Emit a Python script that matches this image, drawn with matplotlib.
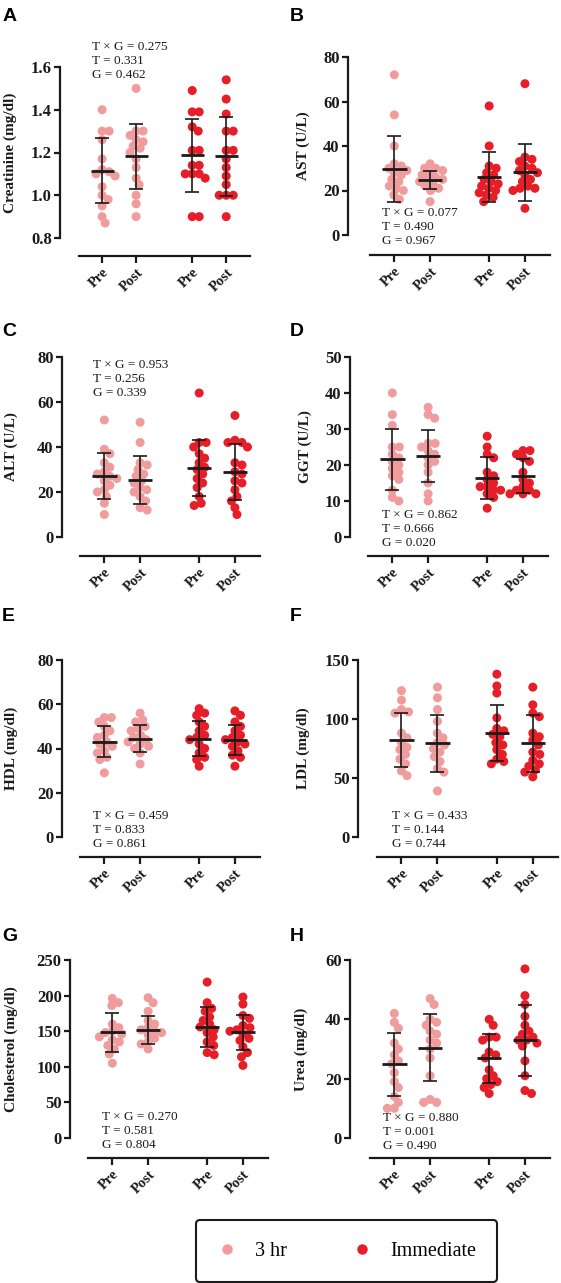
import numpy as np
import matplotlib
matplotlib.use("Agg")
import matplotlib.pyplot as plt
from matplotlib.lines import Line2D

# ── DATA ─────────────────────────────────────────────────────────────────────
# order in every panel: 3 hr Pre, 3 hr Post, Immediate Pre, Immediate Post
xcats = ['Pre', 'Post', 'Pre', 'Post']
groups = ['3 hr', 'Immediate']

creatinine = [
    [1.40, 1.30, 1.30, 1.26, 1.17, 1.12, 1.11, 1.10, 1.09, 1.04, 1.00, 0.98, 0.95, 0.90, 0.87],
    [1.50, 1.30, 1.30, 1.28, 1.26, 1.25, 1.23, 1.22, 1.20, 1.17, 1.13, 1.08, 1.05, 1.00, 0.96, 0.90],
    [1.49, 1.39, 1.39, 1.32, 1.30, 1.21, 1.21, 1.14, 1.14, 1.10, 1.10, 1.10, 1.08, 0.90, 0.90],
    [1.54, 1.45, 1.38, 1.30, 1.30, 1.21, 1.21, 1.17, 1.13, 1.09, 1.05, 1.00, 1.00, 1.00, 0.90],
]
creatinine_mean = [1.114, 1.182, 1.187, 1.182]
creatinine_sd = [0.152, 0.151, 0.171, 0.184]

ast = [
    [72, 54, 40, 32, 31, 30, 29, 28, 27, 25, 24, 22, 21, 20, 18, 16],
    [32, 30, 30, 29, 28, 27, 26, 25, 25, 24, 23, 22, 21, 20, 15],
    [58, 40, 31, 30, 28, 27, 25, 24, 23, 22, 21, 20, 19, 18, 17, 15],
    [68, 35, 34, 33, 31, 30, 29, 28, 27, 25, 24, 22, 21, 21, 20, 12],
]
ast_mean = [29.7, 24.8, 26.0, 28.2]
ast_sd = [14.8, 4.0, 11.2, 12.9]

alt = [
    [52, 39, 37, 33, 31, 29, 28, 27, 26, 25, 23, 21, 20, 18, 15, 10],
    [51, 42, 33, 32, 30, 28, 27, 25, 24, 22, 21, 20, 18, 16, 13, 12],
    [64, 42, 42, 40, 37, 35, 33, 31, 30, 28, 26, 24, 22, 18, 15, 14],
    [54, 43, 42, 42, 40, 33, 32, 29, 28, 25, 24, 21, 18, 16, 13, 10],
]
alt_mean = [27.1, 25.2, 30.7, 28.9]
alt_sd = [10.2, 10.6, 12.3, 12.3]

ggt = [
    [40, 34, 31, 25, 25, 23, 22, 21, 20, 19, 18, 17, 16, 13, 11, 10],
    [36, 34, 33, 26, 26, 25, 24, 23, 22, 21, 20, 18, 15, 12, 10],
    [28, 25, 23, 22, 18, 17, 16, 15, 14, 14, 13, 13, 12, 11, 8],
    [24, 24, 23, 22, 21, 18, 16, 15, 14, 13, 13, 12, 12, 12],
]
ggt_mean = [21.6, 22.5, 16.4, 16.9]
ggt_sd = [8.5, 7.3, 5.8, 4.8]

hdl = [
    [54, 54, 52, 50, 48, 46, 45, 43, 42, 41, 39, 38, 36, 35, 29],
    [56, 53, 52, 50, 49, 48, 46, 45, 44, 43, 42, 41, 40, 38, 33],
    [58, 56, 55, 52, 50, 48, 46, 45, 44, 42, 40, 38, 36, 35, 32],
    [57, 55, 52, 50, 48, 46, 45, 44, 43, 42, 41, 39, 37, 36, 32],
]
hdl_mean = [43.0, 44.5, 44.5, 43.7]
hdl_sd = [7.0, 6.2, 8.0, 6.8]

ldl = [
    [124, 116, 108, 106, 105, 88, 84, 80, 76, 74, 70, 66, 62, 56, 52],
    [127, 118, 108, 98, 88, 84, 80, 78, 75, 72, 68, 64, 58, 55, 39],
    [138, 128, 122, 101, 92, 90, 87, 85, 80, 78, 74, 70, 66, 64, 62],
    [127, 112, 105, 102, 88, 85, 82, 78, 72, 70, 65, 62, 60, 57, 55, 51],
]
ldl_mean = [82.3, 79.5, 88.0, 79.5]
ldl_sd = [23.1, 24.0, 24.0, 24.0]

cholesterol = [
    [196, 190, 186, 160, 155, 150, 148, 146, 142, 138, 135, 130, 125, 118, 105],
    [197, 190, 178, 165, 160, 155, 152, 150, 148, 145, 140, 135, 132, 125],
    [219, 190, 182, 178, 170, 165, 160, 156, 152, 148, 142, 135, 130, 120, 117],
    [198, 188, 172, 168, 158, 155, 152, 150, 146, 140, 137, 128, 120, 114, 102],
]
cholesterol_mean = [148.7, 152.0, 156.0, 148.4]
cholesterol_sd = [27.3, 19.8, 27.5, 24.5]

urea = [
    [42, 39, 37, 32, 30, 28, 26, 25, 22, 19, 17, 14, 12, 10, 10],
    [47, 45, 40, 39, 38, 36, 35, 33, 32, 30, 27, 21, 13, 12, 12],
    [40, 38, 34, 34, 33, 29, 28, 27, 23, 21, 20, 19, 18, 17, 15],
    [57, 48, 45, 41, 38, 36, 35, 34, 33, 33, 32, 31, 26, 21, 16, 15],
]
urea_mean = [24.8, 30.4, 26.8, 33.0]
urea_sd = [10.5, 11.3, 8.3, 12.0]

letters = ['A', 'B', 'C', 'D', 'E', 'F', 'G', 'H']
ylabels = ['Creatinine (mg/dl)', 'AST (U/L)', 'ALT (U/L)', 'GGT (U/L)',
           'HDL (mg/dl)', 'LDL (mg/dl)', 'Cholesterol (mg/dl)', 'Urea (mg/dl)']
pvals = [('0.275', '0.331', '0.462'), ('0.077', '0.490', '0.967'),
         ('0.953', '0.256', '0.339'), ('0.862', '0.666', '0.020'),
         ('0.459', '0.833', '0.861'), ('0.433', '0.144', '0.744'),
         ('0.270', '0.581', '0.804'), ('0.880', '0.001', '0.490')]
yticks = [[0.8, 1.0, 1.2, 1.4, 1.6], [0, 20, 40, 60, 80], [0, 20, 40, 60, 80],
          [0, 10, 20, 30, 40, 50], [0, 20, 40, 60, 80], [0, 50, 100, 150],
          [0, 50, 100, 150, 200, 250], [0, 20, 40, 60]]

points = [creatinine, ast, alt, ggt, hdl, ldl, cholesterol, urea]
means = [creatinine_mean, ast_mean, alt_mean, ggt_mean, hdl_mean, ldl_mean,
         cholesterol_mean, urea_mean]
sds = [creatinine_sd, ast_sd, alt_sd, ggt_sd, hdl_sd, ldl_sd, cholesterol_sd, urea_sd]

# ── LAYOUT (pixels) ──────────────────────────────────────────────────────────
W, H, DPI = 561, 1283, 100
# spine_x, x0, x1, ytop, ybot, xaxis_y
geom = [(60, 79, 250, 67, 238, 256), (348, 370, 550, 57, 235, 255),
        (62, 80, 260, 357, 537, 556), (350, 368, 548, 357, 537, 556),
        (62, 80, 260, 660, 837, 857), (358, 377, 558, 660, 837, 857),
        (70, 88, 268, 960, 1138, 1158), (350, 370, 550, 960, 1138, 1158)]
letter_xy = [(3, 8), (290, 8), (2, 323), (290, 323), (2, 608), (290, 608),
             (2, 928), (290, 928)]
ylabel_x = [17, 310, 18, 312, 18, 310, 18, 308]
stats_xy = [(92, 41), (382, 207), (93, 359), (382, 509), (93, 810), (392, 810),
            (102, 1111), (383, 1112)]

xpos = np.array([0, 1, 2.65, 3.65])
XLIM = (-0.68, 4.35)
colors = ['#F09C9C', '#E51E27']
col4 = [colors[0], colors[0], colors[1], colors[1]]
INK = '#1a1a1a'

plt.rcParams['font.family'] = ['Liberation Serif', 'DejaVu Serif']


def swarm_offsets(ys_px, d=7.0, step=0.5):
    """Deterministic beeswarm: horizontal pixel offsets so dots don't overlap."""
    cands = [0.0]
    for k in range(1, 80):
        cands += [k * step, -k * step]
    order = np.argsort(-np.asarray(ys_px))
    placed, offs = [], np.zeros(len(ys_px))
    for i in order:
        y = ys_px[i]
        for c in cands:
            if all((c - ox) ** 2 + (y - oy) ** 2 >= d * d for ox, oy in placed):
                offs[i] = c
                placed.append((c, y))
                break
    return offs


fig = plt.figure(figsize=(W / DPI, H / DPI), dpi=DPI)

for k in range(8):
    sx, x0, x1, yt, yb, xa = geom[k]
    ax = fig.add_axes([x0 / W, 1 - yb / H, (x1 - x0) / W, (yb - yt) / H])
    ymin, ymax = yticks[k][0], yticks[k][-1]
    ax.set_xlim(*XLIM)
    ax.set_ylim(ymin, ymax)
    px_per_y = (yb - yt) / (ymax - ymin)
    px_per_x = (x1 - x0) / (XLIM[1] - XLIM[0])

    for g in range(4):
        vals = np.asarray(points[k][g], dtype=float)
        offs = swarm_offsets((vals - ymin) * px_per_y)
        ax.scatter(xpos[g] + offs / px_per_x, vals, s=42, color=col4[g],
                   edgecolors='none', zorder=2, clip_on=False)
        m, s = means[k][g], sds[k][g]
        ax.errorbar(xpos[g], m, yerr=s, fmt='none', ecolor=INK,
                    elinewidth=1.2, capsize=5, capthick=1.2, zorder=3)
        ax.hlines(m, xpos[g] - 0.34, xpos[g] + 0.34, color=INK,
                  lw=2.0, zorder=4)

    for side in ('top', 'right'):
        ax.spines[side].set_visible(False)
    ax.spines['left'].set_position(('outward', (x0 - sx) * 72 / DPI))
    ax.spines['bottom'].set_position(('outward', (xa - yb) * 72 / DPI))
    for side in ('left', 'bottom'):
        ax.spines[side].set_linewidth(1.6)
        ax.spines[side].set_color(INK)

    ax.set_yticks(yticks[k])
    if k == 0:
        ax.set_yticklabels([f'{t:.1f}' for t in yticks[k]])
    ax.tick_params(axis='y', length=4.5, width=1.6, pad=1.5, labelsize=12,
                   colors=INK)
    ax.tick_params(axis='x', length=5, width=1.6, pad=2, labelsize=10.5,
                   colors=INK)
    ax.set_xticks(xpos)
    ax.set_xticklabels(xcats, rotation=45, ha='right', rotation_mode='anchor')
    for lab in ax.get_xticklabels() + ax.get_yticklabels():
        lab.set_fontweight('bold')

    ax.set_ylabel(ylabels[k], fontsize=11, fontweight='bold', color=INK)
    ax.yaxis.set_label_coords((ylabel_x[k] - x0) / (x1 - x0), 0.5)

    tx, ty = stats_xy[k]
    p = pvals[k]
    fig.text(tx / W, 1 - ty / H,
             f'T \u00d7 G = {p[0]}\nT = {p[1]}\nG = {p[2]}',
             ha='left', va='top', fontsize=9.5, linespacing=1.22, color=INK)

    lx, ly = letter_xy[k]
    fig.text(lx / W, 1 - ly / H, letters[k], ha='left', va='top',
             fontsize=14, fontweight='bold', family='Liberation Sans')

# ── LEGEND ───────────────────────────────────────────────────────────────────
handles = [Line2D([], [], marker='o', ls='none', markersize=7.5,
                  markerfacecolor=c, markeredgecolor='none') for c in colors]
leg = fig.legend(handles, groups, loc='center left',
                 bbox_to_anchor=(196 / W, 1 - 1251 / H), ncol=2, fontsize=14.5,
                 frameon=True, fancybox=True, borderpad=1.05, borderaxespad=0,
                 handlelength=1.0, handletextpad=0.9, columnspacing=3.2)
frame = leg.get_frame()
frame.set_edgecolor(INK)
frame.set_linewidth(1.5)
frame.set_alpha(1)

fig.savefig('out.png', dpi=DPI)
